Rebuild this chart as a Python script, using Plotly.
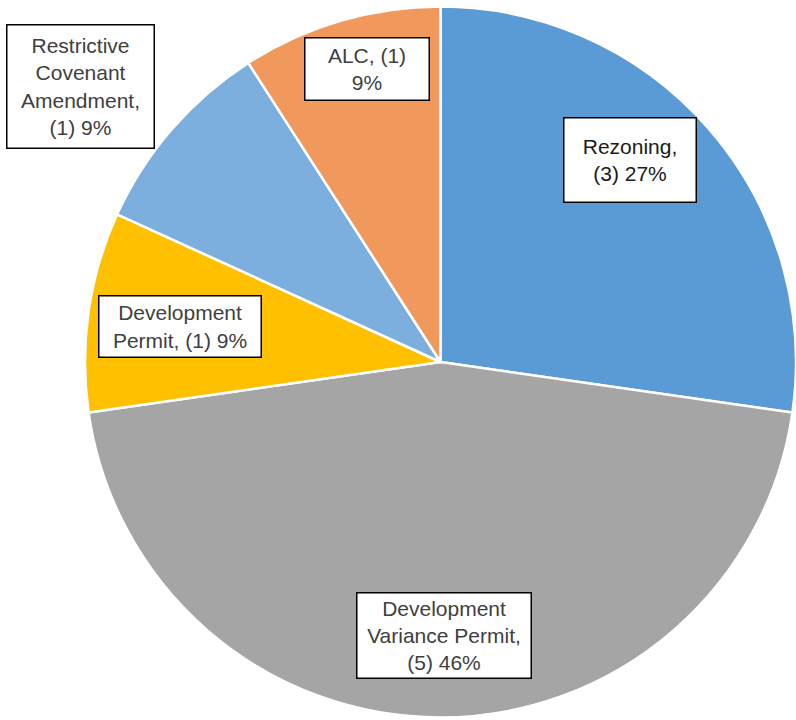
import math
import plotly.graph_objects as go

categories = ["Rezoning", "Development Variance Permit", "Development Permit",
              "Restrictive Covenant Amendment", "ALC"]
counts = [3, 5, 1, 1, 1]
pct_labels = ["27%", "46%", "9%", "9%", "9%"]
label_lines = ["Rezoning,<br>(3) 27%",
               "Development<br>Variance Permit,<br>(5) 46%",
               "Development<br>Permit, (1) 9%",
               "Restrictive<br>Covenant<br>Amendment,<br>(1) 9%",
               "ALC, (1)<br>9%"]

colors = ["#5B9BD5", "#A5A5A5", "#FFC000", "#7DAFDE", "#F1995C"]

W, H = 796, 720
dom_x = [85 / W, 1.0]
dom_y = [2 / H, 714 / H]

fig = go.Figure(go.Pie(
    labels=categories, values=counts, sort=False, direction="clockwise",
    rotation=0, textinfo="none", hoverinfo="label+value+percent",
    marker=dict(colors=colors, line=dict(color="white", width=2.5)),
    domain=dict(x=dom_x, y=dom_y), showlegend=False,
))

# label placement (layout styling): radial factor, angle tweak, box size
label_r = [0.78, 0.77, 0.74, 1.275, 0.85]
angle_tweak = [-6, -0.8, -0.5, -3.5, 2.2]
box_w = [134, 176, 164, 149, 126]
box_h = [86, 87, 63, 125, 64]
font_colors = ["#1a1a1a", "#404040", "#404040", "#404040", "#404040"]

cx_px = (dom_x[0] + dom_x[1]) / 2 * W
cy_px = H - (dom_y[0] + dom_y[1]) / 2 * H
rad_px = min((dom_x[1] - dom_x[0]) * W, (dom_y[1] - dom_y[0]) * H) / 2

total = sum(counts)
cum = 0
for i, v in enumerate(counts):
    mid = (cum + v / 2) / total * 360 + angle_tweak[i]
    cum += v
    a = math.radians(mid)
    px = cx_px + label_r[i] * rad_px * math.sin(a)
    py = cy_px - label_r[i] * rad_px * math.cos(a)
    fig.add_annotation(
        x=px / W, y=1 - py / H, xref="paper", yref="paper",
        text=label_lines[i], showarrow=False,
        font=dict(family="Liberation Sans, Arial, sans-serif", size=21, color=font_colors[i]),
        bgcolor="white", bordercolor="black", borderwidth=1.5, borderpad=0,
        width=box_w[i] - 3, height=box_h[i] - 3, align="center", valign="middle",
        xanchor="center", yanchor="middle",
    )

fig.update_layout(width=W, height=H, margin=dict(l=0, r=0, t=0, b=0),
                  paper_bgcolor="white", plot_bgcolor="white")
fig.write_html("out.html", config={"displayModeBar": False},
               post_script="document.body.style.margin='0';document.body.style.overflow='hidden';")
